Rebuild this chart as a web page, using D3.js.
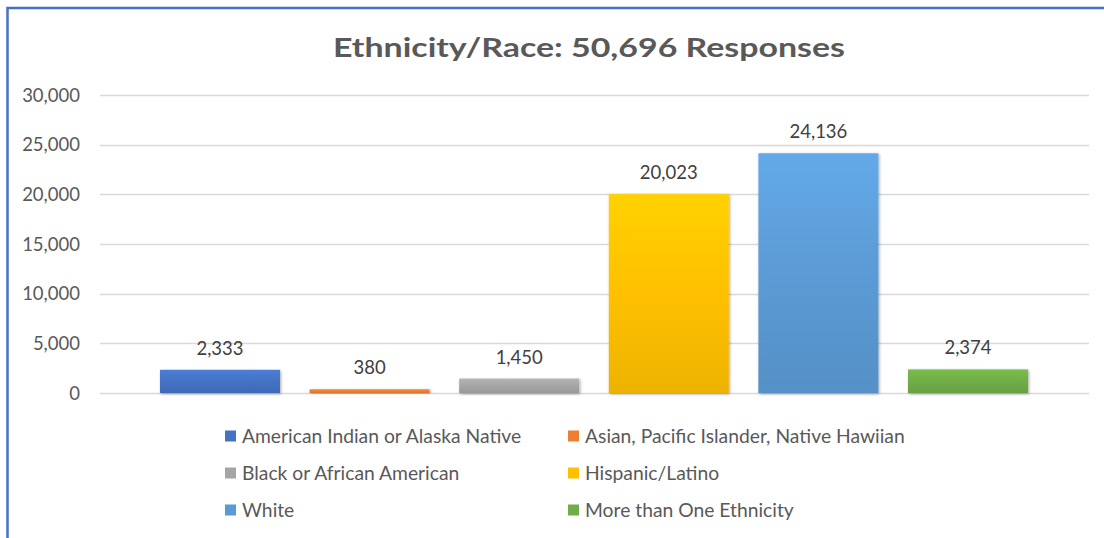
<!DOCTYPE html>
<html>
<head>
<meta charset="utf-8">
<script src="https://cdn.jsdelivr.net/npm/d3@7"></script>
<style>
  html, body { margin: 0; padding: 0; background: #fff; }
  svg { display: block; }
</style>
</head>
<body>
<svg id="chart" width="1104" height="538"></svg>
<script>
const categories = [
  "American Indian or Alaska Native",
  "Asian, Pacific Islander, Native Hawiian",
  "Black or African American",
  "Hispanic/Latino",
  "White",
  "More than One Ethnicity"
];
const values = [2333, 380, 1450, 20023, 24136, 2374];
const colors = ["#4472C4", "#ED7D31", "#A5A5A5", "#FFC000", "#5B9BD5", "#70AD47"];
const yTicks = [0, 5000, 10000, 15000, 20000, 25000, 30000];
const titleText = "Ethnicity/Race: 50,696 Responses";

const svg = d3.select("#chart");
const W = 1104, H = 538;
const font = "Lato, 'Open Sans', sans-serif";

// frame
svg.append("path")
  .attr("d", `M7.5,${H} L7.5,8 L${W},8`)
  .attr("fill", "none")
  .attr("stroke", "#4472C4")
  .attr("stroke-width", 2.5);

const defs = svg.append("defs");
const filt = defs.append("filter").attr("id", "shadow")
  .attr("x", "-10%").attr("y", "-10%").attr("width", "120%").attr("height", "130%");
filt.append("feDropShadow").attr("dx", 1).attr("dy", 1)
  .attr("stdDeviation", 1.5).attr("flood-color", "#000").attr("flood-opacity", 0.35);

colors.forEach((c, i) => {
  const g = defs.append("linearGradient").attr("id", "grad" + i)
    .attr("x1", 0).attr("y1", 0).attr("x2", 0).attr("y2", 1);
  g.append("stop").attr("offset", "0%").attr("stop-color", d3.color(c).brighter(0.25));
  g.append("stop").attr("offset", "50%").attr("stop-color", c);
  g.append("stop").attr("offset", "100%").attr("stop-color", d3.color(c).darker(0.2));
});

const y = d3.scaleLinear().domain([0, 30000]).range([393, 95]);
const x = d3.scaleBand().domain(categories)
  .range([145.2, 1042.8]).paddingInner(0.198).paddingOuter(0.099);

// gridlines
svg.append("g").selectAll("line").data(yTicks).join("line")
  .attr("x1", 100).attr("x2", 1089)
  .attr("y1", d => Math.round(y(d)) + 0.5).attr("y2", d => Math.round(y(d)) + 0.5)
  .attr("stroke", "#d9d9d9").attr("stroke-width", 1.5);

// y axis labels
const fmt = d3.format(",");
svg.append("g").selectAll("text").data(yTicks).join("text")
  .attr("x", 80).attr("y", d => y(d))
  .attr("dy", "0.36em")
  .attr("text-anchor", "end")
  .attr("font-family", font).attr("font-size", 18.5)
  .attr("fill", "#595959")
  .text(d => fmt(d));

// bars
svg.append("g").selectAll("rect").data(values).join("rect")
  .attr("x", (d, i) => x(categories[i]))
  .attr("width", x.bandwidth())
  .attr("y", d => y(d))
  .attr("height", d => y(0) - y(d))
  .attr("fill", (d, i) => `url(#grad${i})`)
  .attr("filter", "url(#shadow)");

// data labels
svg.append("g").selectAll("text").data(values).join("text")
  .attr("x", (d, i) => x(categories[i]) + x.bandwidth() / 2)
  .attr("y", d => y(d) - 15)
  .attr("text-anchor", "middle")
  .attr("font-family", font).attr("font-size", 18.5)
  .attr("fill", "#404040")
  .text(d => fmt(d));

// title
svg.append("text")
  .attr("x", 589).attr("y", 57)
  .attr("text-anchor", "middle")
  .attr("font-family", font).attr("font-size", 26.5).attr("font-weight", "bold")
  .attr("fill", "#595959")
  .attr("textLength", 512).attr("lengthAdjust", "spacingAndGlyphs")
  .text(titleText);

// legend
const colX = [225, 568];
const rowY = [436, 473, 510];
const leg = svg.append("g").selectAll("g").data(categories).join("g")
  .attr("transform", (d, i) => `translate(${colX[i % 2]},${rowY[Math.floor(i / 2)]})`);
leg.append("rect").attr("x", 0).attr("y", -5.5).attr("width", 11).attr("height", 11)
  .attr("fill", (d, i) => colors[i]);
leg.append("text").attr("x", 17).attr("y", 0).attr("dy", "0.36em")
  .attr("font-family", font).attr("font-size", 19.3)
  .attr("fill", "#595959")
  .text(d => d);
</script>
</body>
</html>
